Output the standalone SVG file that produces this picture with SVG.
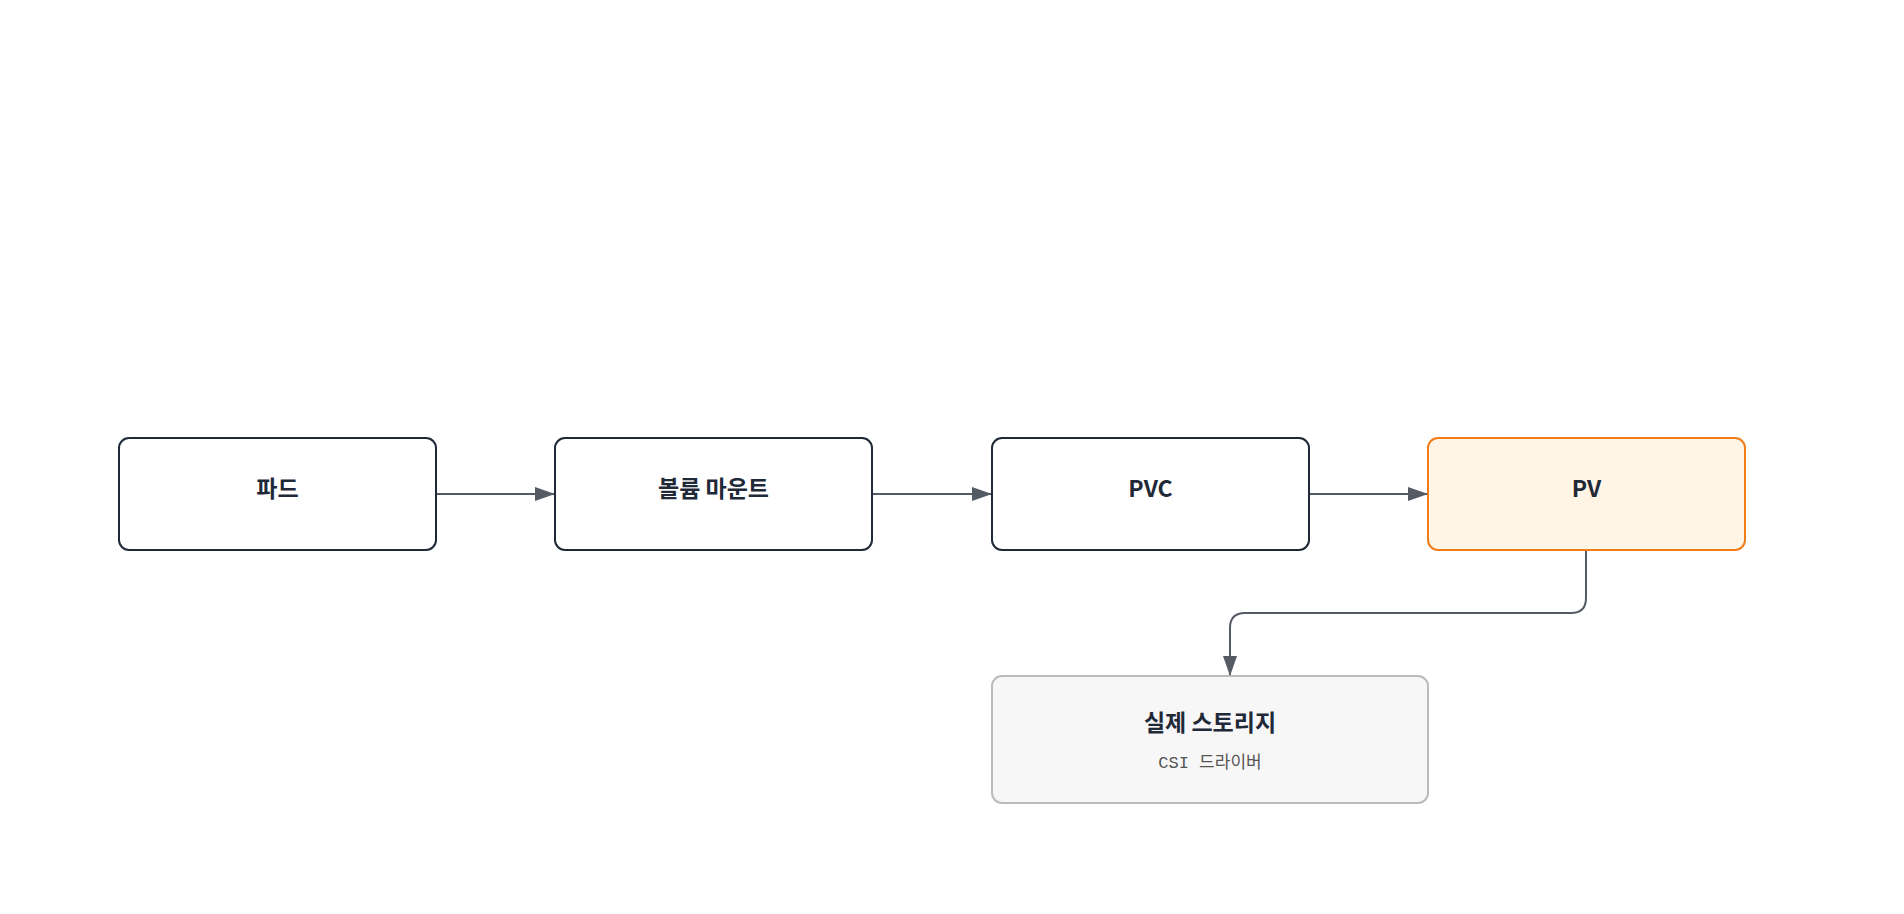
<svg xmlns="http://www.w3.org/2000/svg" width="1904" height="914" viewBox="0 0 1904 914">
<style>
.n{fill:#fff;stroke:#1f2937;stroke-width:2}
.t{font-family:"Noto Sans CJK KR","Noto Sans",sans-serif;font-weight:700;font-size:23px;fill:#1f2937;text-anchor:middle}
.s{font-family:"Liberation Mono","Noto Sans CJK KR",monospace;font-size:17px;fill:#555;text-anchor:middle}
.c{fill:none;stroke:#555b65;stroke-width:2}
</style>
<defs><marker id="a" viewBox="0 0 10 10" refX="10" refY="5" markerWidth="10" markerHeight="10" markerUnits="userSpaceOnUse" orient="auto"><path d="M0,0L10,5L0,10z" fill="#555b65" transform="scale(1)"/></marker>
<marker id="b" viewBox="0 0 20 14" refX="20" refY="7" markerWidth="20" markerHeight="14" markerUnits="userSpaceOnUse" orient="auto"><path d="M0,0L20,7L0,14z" fill="#555b65"/></marker></defs>
<rect width="1904" height="914" fill="#fff"/>
<g id="connectors">
<path class="c" d="M436,494H555" marker-end="url(#b)"/>
<path class="c" d="M872,494H992" marker-end="url(#b)"/>
<path class="c" d="M1309,494H1428" marker-end="url(#b)"/>
<path class="c" d="M1586,550V598Q1586,613 1571,613H1245Q1230,613 1230,628V676" marker-end="url(#b)"/>
</g>
<g id="pod"><rect class="n" x="119" y="438" width="317" height="112" rx="10"/><text class="t" x="277.5" y="497">파드</text></g>
<g id="mount"><rect class="n" x="555" y="438" width="317" height="112" rx="10"/><text class="t" x="713.5" y="497">볼륨 마운트</text></g>
<g id="pvc"><rect class="n" x="992" y="438" width="317" height="112" rx="10"/><text class="t" x="1150.5" y="497">PVC</text></g>
<g id="pv"><rect x="1428" y="438" width="317" height="112" rx="10" fill="#fff5e6" stroke="#f07c1a" stroke-width="2"/><text class="t" x="1586.5" y="497">PV</text></g>
<g id="storage"><rect x="992" y="676" width="436" height="127" rx="10" fill="#f7f7f7" stroke="#bbb" stroke-width="2"/><text class="t" x="1210" y="731">실제 스토리지</text><text class="s" x="1210" y="768">CSI 드라이버</text></g>
</svg>
